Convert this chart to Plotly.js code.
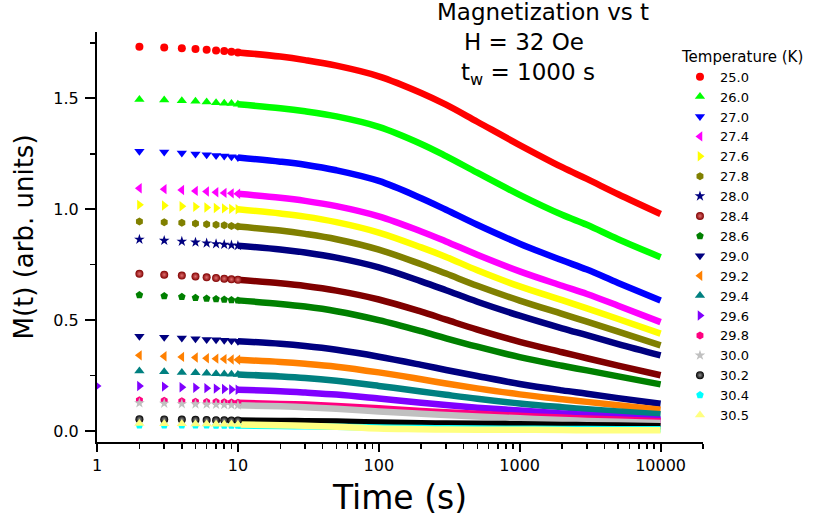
<!DOCTYPE html>
<html>
<head>
<meta charset="utf-8">
<script src="https://cdn.plot.ly/plotly-3.0.1.min.js"></script>
<style>html,body{margin:0;padding:0;background:#fff;}#chart{width:816px;height:518px;}</style>
</head>
<body>
<div id="chart"></div>
<script>
// Time points (s); t = 1 only appears for the 29.6 K series
const TIME = [1, 2, 3, 4, 5, 6, 7, 8, 9, 10, 20, 30, 50, 100, 200, 300, 500, 1000, 2000, 3000, 5000, 10000];

// Temperatures (K) used as legend labels
const TEMPS = ['25.0','26.0','27.0','27.4','27.6','27.8','28.0','28.4','28.6','29.0','29.2','29.4','29.6','29.8','30.0','30.2','30.4','30.5'];

// M(t) in arbitrary units, one array per temperature
const M_25_0 = [null,1.733,1.730,1.727,1.723,1.720,1.717,1.714,1.711,1.708,1.689,1.673,1.648,1.600,1.525,1.472,1.395,1.290,1.190,1.137,1.068,0.979];
const M_26_0 = [null,1.495,1.493,1.490,1.487,1.484,1.481,1.479,1.477,1.474,1.456,1.442,1.419,1.372,1.295,1.240,1.165,1.065,0.975,0.930,0.865,0.784];
const M_27_0 = [null,1.262,1.258,1.254,1.250,1.246,1.243,1.240,1.237,1.234,1.215,1.201,1.176,1.128,1.050,0.998,0.930,0.845,0.770,0.728,0.668,0.589];
const M_27_4 = [null,1.095,1.091,1.087,1.083,1.080,1.077,1.074,1.072,1.070,1.052,1.038,1.014,0.968,0.900,0.855,0.795,0.720,0.655,0.618,0.565,0.491];
const M_27_6 = [null,1.020,1.017,1.014,1.011,1.008,1.006,1.004,1.002,1.000,0.981,0.967,0.942,0.895,0.828,0.785,0.725,0.652,0.590,0.553,0.505,0.439];
const M_27_8 = [null,0.945,0.942,0.939,0.936,0.933,0.930,0.928,0.925,0.922,0.904,0.889,0.865,0.818,0.752,0.710,0.655,0.588,0.528,0.493,0.448,0.386];
const M_28_0 = [null,0.864,0.859,0.855,0.851,0.847,0.844,0.841,0.838,0.836,0.819,0.805,0.782,0.738,0.675,0.635,0.583,0.520,0.463,0.432,0.392,0.341];
const M_28_4 = [null,0.709,0.705,0.701,0.697,0.693,0.690,0.687,0.684,0.682,0.666,0.654,0.633,0.593,0.538,0.502,0.457,0.402,0.355,0.328,0.295,0.251];
const M_28_6 = [null,0.613,0.609,0.605,0.601,0.598,0.595,0.593,0.591,0.589,0.573,0.561,0.540,0.500,0.450,0.418,0.380,0.333,0.294,0.273,0.246,0.210];
const M_29_0 = [null,0.427,0.423,0.419,0.416,0.413,0.411,0.409,0.407,0.405,0.393,0.383,0.366,0.335,0.298,0.275,0.248,0.212,0.183,0.168,0.148,0.123];
const M_29_2 = [null,0.341,0.337,0.334,0.331,0.328,0.326,0.324,0.322,0.321,0.311,0.303,0.290,0.264,0.233,0.214,0.192,0.165,0.143,0.131,0.116,0.096];
const M_29_4 = [null,0.270,0.267,0.264,0.262,0.260,0.258,0.257,0.256,0.255,0.246,0.239,0.226,0.203,0.178,0.163,0.145,0.124,0.107,0.098,0.088,0.075];
const M_29_6 = [0.203,0.203,0.200,0.197,0.195,0.193,0.191,0.189,0.187,0.186,0.179,0.173,0.164,0.146,0.127,0.117,0.105,0.092,0.079,0.072,0.063,0.051];
const M_29_8 = [null,0.138,0.136,0.134,0.132,0.131,0.130,0.129,0.128,0.127,0.122,0.119,0.113,0.102,0.090,0.084,0.077,0.068,0.060,0.056,0.051,0.044];
const M_30_0 = [null,0.126,0.124,0.122,0.121,0.120,0.119,0.118,0.117,0.116,0.111,0.107,0.100,0.088,0.078,0.072,0.065,0.057,0.049,0.045,0.041,0.036];
const M_30_2 = [null,0.053,0.052,0.051,0.050,0.049,0.048,0.048,0.047,0.047,0.045,0.044,0.042,0.038,0.035,0.033,0.032,0.030,0.027,0.026,0.024,0.021];
const M_30_4 = [null,0.026,0.026,0.025,0.025,0.025,0.024,0.024,0.024,0.024,0.022,0.021,0.019,0.015,0.013,0.012,0.011,0.010,0.009,0.009,0.008,0.008];
const M_30_5 = [null,0.033,0.032,0.032,0.031,0.031,0.030,0.030,0.030,0.029,0.026,0.023,0.019,0.011,0.008,0.006,0.005,0.005,0.004,0.003,0.003,0.003];

const SERIES = [M_25_0,M_26_0,M_27_0,M_27_4,M_27_6,M_27_8,M_28_0,M_28_4,M_28_6,M_29_0,M_29_2,M_29_4,M_29_6,M_29_8,M_30_0,M_30_2,M_30_4,M_30_5];

// Styles
const COLORS = ['#ff0000','#00ff00','#0000ff','#ff00ff','#ffff00','#808000','#000080','#800000','#008000','#000080','#ff8000','#008080','#8000ff','#ff0080','#c0c0c0','#000000','#00ffff','#ffff80'];
const SYMBOLS = ['circle','triangle-up','triangle-down','triangle-left','triangle-right','hexagon','star','circle','pentagon','triangle-down','triangle-left','triangle-up','triangle-right','hexagon','star','circle','pentagon','triangle-up'];
const HIGHLIGHT = [null,null,null,null,null,null,null,'#e07070',null,null,null,null,null,null,null,'#909090',null,null];

const FONT = 'DejaVu Sans, Liberation Sans, Arial, sans-serif';
const traces = [];

// continuous dense part (t >= 10): thick band
SERIES.forEach((vals, i) => {
  const x = [], y = [];
  TIME.forEach((t, k) => { if (t >= 10 && vals[k] !== null) { x.push(t); y.push(vals[k]); } });
  traces.push({
    x: x, y: y, type: 'scatter', mode: 'lines',
    line: {color: COLORS[i], width: 6.5, shape: 'spline', smoothing: 1},
    showlegend: false, hoverinfo: 'skip'
  });
});
// discrete markers (t <= 10)
SERIES.forEach((vals, i) => {
  const x = [], y = [];
  TIME.forEach((t, k) => { if (t <= 10 && vals[k] !== null) { x.push(t); y.push(vals[k]); } });
  const marker = {symbol: SYMBOLS[i], color: COLORS[i], size: SYMBOLS[i].indexOf('triangle') === 0 ? 9 : 8, line: {width: 0}};
  if (HIGHLIGHT[i]) marker.gradient = {type: 'radial', color: HIGHLIGHT[i]};
  traces.push({
    x: x, y: y, type: 'scatter', mode: 'markers',
    name: TEMPS[i], marker: marker
  });
});

const minorX = [];
[1,10,100,1000,10000].forEach(d => { for (let m = 2; m <= 9; m++) { const v = d*m; if (v <= 20000) minorX.push(v); } });
minorX.push(20000);

const layout = {
  width: 816, height: 518,
  margin: {l: 97, r: 113, t: 32, b: 76, autoexpand: false},
  paper_bgcolor: '#ffffff', plot_bgcolor: '#ffffff',
  font: {family: FONT, color: '#000000'},
  showlegend: true,
  xaxis: {
    type: 'log', range: [0, Math.log10(20000)],
    tickvals: [1,10,100,1000,10000], ticktext: ['1','10','100','1000','10000'],
    ticks: 'outside', ticklen: 8, tickwidth: 2, tickcolor: '#000',
    showline: true, linewidth: 2, linecolor: '#000',
    showgrid: false, zeroline: false,
    tickfont: {size: 16, family: FONT},
    minor: {tickvals: minorX, ticks: 'outside', ticklen: 5, tickwidth: 1.5, tickcolor: '#000', showgrid: false},
    title: {text: 'Time (s)', font: {size: 33, family: FONT}, standoff: 12}
  },
  yaxis: {
    range: [-0.05, 1.8],
    tickvals: [0, 0.5, 1.0, 1.5], ticktext: ['0.0','0.5','1.0','1.5'],
    ticks: 'outside', ticklen: 10, tickwidth: 2, tickcolor: '#000',
    showline: true, linewidth: 2, linecolor: '#000',
    showgrid: false, zeroline: false,
    tickfont: {size: 16, family: FONT},
    ticklabelstandoff: 3,
    minor: {tickvals: [0.25, 0.75, 1.25, 1.75], ticks: 'outside', ticklen: 5, tickwidth: 1.5, tickcolor: '#000', showgrid: false},
    title: {text: 'M(t) (arb. units)', font: {size: 26, family: FONT}, standoff: 12}
  },
  legend: {
    x: 0.962, y: 0.975, xanchor: 'left', yanchor: 'top',
    bgcolor: 'rgba(0,0,0,0)', borderwidth: 0,
    font: {size: 13, family: FONT},
    title: {text: 'Temperature (K)', font: {size: 15, family: FONT}},
    tracegroupgap: 0
  },
  annotations: [
    {text: 'Magnetization vs t', font: {size: 23, family: FONT}},
    {text: 'H = 32 Oe', font: {size: 23, family: FONT}},
    {text: 't<sub>w</sub> = 1000 s', font: {size: 23, family: FONT}}
  ]
};

// place the three title lines using pixel targets converted to paper coords
const plotL = 97, plotW = 816 - 97 - 113, plotT = 32, plotH = 518 - 32 - 76;
function px2paperX(px) { return (px - plotL) / plotW; }
function px2paperY(py) { return (plotT + plotH - py) / plotH; }
const titlePos = [[543, 12], [524, 42], [528, 74]];
layout.annotations.forEach((a, i) => {
  a.showarrow = false;
  a.xref = 'paper'; a.yref = 'paper';
  a.x = px2paperX(titlePos[i][0]); a.y = px2paperY(titlePos[i][1]);
  a.xanchor = 'center'; a.yanchor = 'middle';
});

Plotly.newPlot('chart', traces, layout, {staticPlot: true, displayModeBar: false});
</script>
</body>
</html>
